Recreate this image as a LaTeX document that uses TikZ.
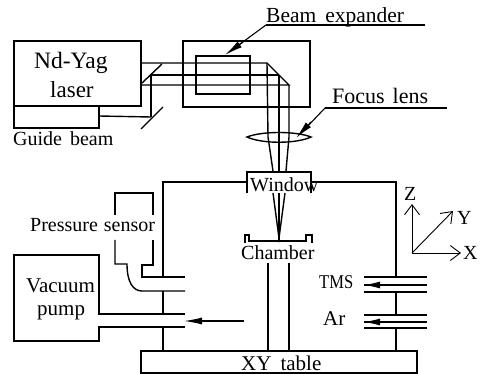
\documentclass[tikz,border=0pt]{standalone}
\usepackage{fontspec}
\setmainfont{Liberation Serif}
\usetikzlibrary{arrows.meta}
\newcommand{\lab}[1]{\fontsize{#1}{#1}\selectfont}
\tikzset{
  line/.style={draw=black,line width=1.4pt,line join=miter},
  thin line/.style={draw=black,line width=1.1pt},
  thick line/.style={draw=black,line width=2pt},
  txt/.style={inner sep=0pt,anchor=base west,font=\lab{21},text=black},
  wedge/.style={-{Latex[length=18pt,width=7pt]},draw=black,line width=1.2pt},
  axis/.style={-{Straight Barb[length=10pt,width=15pt,line width=0.9pt]},draw=black,line width=0.9pt}
}
\begin{document}
\begin{tikzpicture}[x=1pt,y=-1pt]
\useasboundingbox (0,0) rectangle (482,374);
% laser and guide beam
\draw[line] (14,41) rectangle (141,106);
\draw[line] (14,106) -- (14,128) -- (99,128) -- (99,106);
\node[txt,font=\lab{23.5}] (ndyag) at (34,69) {Nd-Yag};
\node[txt,font=\lab{23}] (laser) at (50,98) {laser};
\node[txt,font=\lab{20}] (guide) at (13,146) {Guide\hspace{8pt}beam};
% expander housing
\draw[line] (183,41) rectangle (310,107);
\draw[line] (196,56) rectangle (250,94);
% beams
\draw[line] (141,63) -- (267,63) -- (289,85) -- (141,85);
\draw[line] (151,75) -- (279,75);
\draw[line] (142,83) -- (162,64);
\draw[line] (99,116) -- (151,117);
\draw[line] (151,75) -- (151,117);
\draw[line] (141,129) -- (163,107);
\draw[line] (267,63) -- (268,137) -- (273,171);
\draw[line] (279,75) -- (279,171);
\draw[line] (289,85) -- (289,137) -- (286,171);
% lens
\draw[line] (247,137) .. controls (262,131) and (296,131) .. (311,137) .. controls (296,144) and (262,144) .. cycle;
% labels with leaders
\node[txt,font=\lab{21.5}] (be) at (266,23) {Beam\hspace{9pt}expander};
\draw[line] (425,25) -- (266,25);
\coordinate (betip) at (225,55);
\draw[thin line] (266,25) -- (236,47);
\draw[wedge] (243,42) -- (betip);
\node[txt,font=\lab{22}] (fl) at (332,104) {Focus\hspace{8pt}lens};
\draw[line] (447,108) -- (325,108);
\coordinate (fltip) at (296,138);
\draw[thin line] (325,108) -- (305,129);
\draw[wedge] (311,122) -- (fltip);
% window
\draw[line] (247,193) -- (247,172) -- (311,172) -- (311,193);
\node[txt,font=\lab{20}] (win) at (250,192) {Window};
% chamber walls
\draw[line] (247,182) -- (163,182) -- (163,277);
\draw[line] (311,182) -- (396,182) -- (396,277);
\draw[line] (163,291) -- (163,314);
\draw[line] (163,327) -- (163,351);
\draw[line] (396,292) -- (396,315);
\draw[line] (396,328) -- (396,351);
% focused beam
\draw[line] (273,193) -- (279,238) -- (285,193);
\draw[line] (279,193) -- (279,241);
\draw[thick line] (279,222) -- (279,241);
% stage
\draw[line] (245,243) -- (245,235) -- (249,235) -- (249,241) -- (306,241) -- (306,235) -- (312,235) -- (312,243);
\node[txt,font=\lab{20}] (ch) at (241,260) {Chamber};
\draw[line] (268,263) -- (268,351);
\draw[line] (289,263) -- (289,351);
% table
\draw[line] (141,351) rectangle (417,373);
\node[txt] (xy) at (241,370) {XY\hspace{9pt}table};
% pressure sensor
\draw[line] (115,215) -- (115,193) -- (153,193) -- (153,215);
\node[txt,font=\lab{20}] (ps) at (30,232) {Pressure\hspace{6pt}sensor};
\draw[line] (115,240) -- (115,264) -- (127,264) .. controls (127,282) and (133,291) .. (142,291) -- (185,291);
\draw[line] (153,240) -- (153,265) -- (142,265) -- (142,277) -- (185,277);
% vacuum pump
\draw[line] (185,314) -- (99,314) -- (99,255) -- (14,255) -- (14,341) -- (99,341) -- (99,327) -- (185,327);
\node[txt] (vac) at (26,292) {Vacuum};
\node[txt] (pump) at (37,315) {pump};
\coordinate (pumptip) at (184,321);
\draw[thin line] (244,321) -- (200,321);
\draw[-{Latex[length=18pt,width=7pt]},line width=1.2pt] (203,321) -- (pumptip);
% gas inlets
\foreach \y in {277,285,292,315,322,328}{\draw[line] (364,\y) -- (427,\y);}
\draw[-{Latex[length=16pt,width=7pt]},line width=1.2pt] (382,285) -- (364,285);
\draw[-{Latex[length=16pt,width=7pt]},line width=1.2pt] (382,322) -- (364,322);
\node[txt,font=\lab{19.5}] (tms) at (319,288) {\scalebox{0.85}[1]{TMS}};
\node[txt] (ar) at (323,325) {Ar};
% axes
\coordinate (o) at (412,253);
\coordinate (az) at (412,204);
\coordinate (ay) at (453,211);
\coordinate (ax) at (461,253);
\draw[axis] (o) -- (az);
\draw[axis] (o) -- (ay);
\draw[axis] (o) -- (ax);
\node[txt,font=\lab{20}] (zl) at (404,201) {Z};
\node[txt,font=\lab{20}] (yl) at (457,225) {Y};
\node[txt,font=\lab{20}] (xl) at (463,260) {X};
\end{tikzpicture}
\end{document}
